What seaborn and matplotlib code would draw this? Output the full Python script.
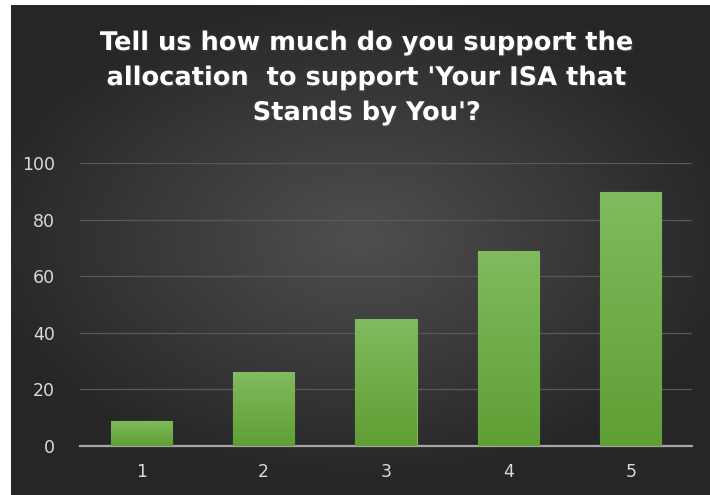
import matplotlib
matplotlib.use('Agg')
import matplotlib.pyplot as plt
import matplotlib.patheffects as pe
import numpy as np
import seaborn as sns

categories = ['1', '2', '3', '4', '5']
values = [9, 26, 45, 69, 90]
y_ticks = [0, 20, 40, 60, 80, 100]
title = "Tell us how much do you support the\nallocation  to support 'Your ISA that\nStands by You'?"

sns.set_style('dark')
plt.rcParams['font.family'] = ['DejaVu Sans']

fig = plt.figure(figsize = (7.1, 4.95), dpi = 100)
fig.patch.set_facecolor('white')

# dark radial background, white strip left and top like the screenshot
bg = fig.add_axes([11 / 710, 0, 699 / 710, 490 / 495])
gx, gy = np.meshgrid(np.linspace(-1, 1, 400), np.linspace(-1, 1, 300))
dist = np.sqrt(((gx - 0.0) / 1.1) ** 2 + ((gy + 0.05) / 1.0) ** 2)
shade = np.clip(0.31 - 0.16 * dist, 0.15, 0.31)
bg.imshow(np.dstack([shade] * 3), aspect = 'auto', extent = [0, 1, 0, 1])
bg.set_axis_off()

ax = fig.add_axes([80 / 710, 1 - 446 / 495, 612 / 710, (446 - 163.3) / 495])
ax.patch.set_alpha(0)
sns.barplot(x = categories, y = values, color = '#6fb241', width = 0.5, ax = ax)

# green vertical gradient inside each bar
grad = np.linspace(0, 1, 100).reshape(-1, 1)
top_c = np.array([0x80, 0xbb, 0x5e]) / 255
bot_c = np.array([0x5f, 0x9f, 0x34]) / 255
rgb = bot_c + (top_c - bot_c) * grad
rgb = rgb.reshape(100, 1, 3)
for p in list(ax.patches):
    x0, y0 = p.get_x(), p.get_y()
    w, h = p.get_width(), p.get_height()
    p.set_edgecolor('#7cb85a')
    p.set_linewidth(0.8)
    p.set_path_effects([pe.SimplePatchShadow(offset = (0, 0), shadow_rgbFace = 'black', alpha = 0.35),
                        pe.Normal()])
    im = ax.imshow(rgb, extent = [x0, x0 + w, y0, y0 + h], origin = 'lower',
                   aspect = 'auto', zorder = 3)
    im.set_clip_path(p)

ax.set_xlim(-0.5, 4.5)
ax.set_ylim(0, 100)
ax.set_yticks(y_ticks)
ax.grid(axis = 'y', color = '#595959', linewidth = 0.9)
ax.grid(axis = 'x', visible = False)
ax.set_axisbelow(True)
for s in ['top', 'left', 'right']:
    ax.spines[s].set_visible(False)
ax.spines['bottom'].set_color('#a6a6a6')
ax.spines['bottom'].set_linewidth(1.6)
ax.tick_params(axis = 'both', length = 0, labelsize = 12.5, colors = '#d9d9d9')
ax.tick_params(axis = 'x', pad = 12)
ax.tick_params(axis = 'y', pad = 18)
ax.set_xlabel('')
ax.set_ylabel('')

fig.text(0.5 + 12 / 710, 1 - 78 / 495, title, ha = 'center', va = 'center',
         fontsize = 18.5, fontweight = 'bold', color = 'white', linespacing = 1.45,
         path_effects = [pe.withSimplePatchShadow(offset = (1, -1), alpha = 0.5)])

plt.savefig('out.png', dpi = 100)
plt.close()
